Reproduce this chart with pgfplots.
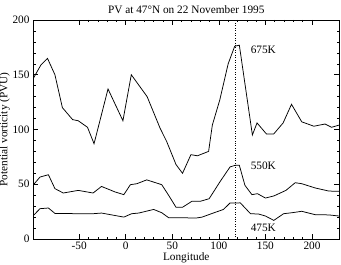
\documentclass[border=0pt]{standalone}
\usepackage{fontspec}
\setmainfont{Liberation Serif}
\usepackage{pgfplots}
\pgfplotsset{compat=1.18}

\begin{document}
\fontsize{11.3}{13.5}\selectfont
\begin{tikzpicture}
\begin{axis}[
  scale only axis,
  width=305.5pt, height=219pt,
  xmin=-99, xmax=229,
  ymin=0, ymax=200,
  xtick={-50,0,50,100,150,200},
  ytick={0,50,100,150,200},
  minor x tick num=4,
  minor y tick num=4,
  tick align=inside,
  major tick length=5pt,
  minor tick length=2.5pt,
  axis line style={line width=0.6pt},
  every tick/.style={line width=0.5pt, black},
  tick pos=both,
  /pgf/number format/assume math mode=true,
  tick label style={font=\fontsize{11.3}{13}\selectfont},
  xticklabel style={yshift=1pt},
  title={PV at 47°N on 22 November 1995},
  title style={font=\fontsize{11.3}{13}\selectfont, yshift=-3.5pt},
  xlabel={Longitude},
  ylabel={Potential vorticity (PVU)},
  xlabel style={yshift=4.5pt},
  ylabel style={yshift=-5pt},
  clip=false,
]
% 675 K isentropic surface
\addplot[black, line width=0.75pt] coordinates {
  (-99,147) (-91,159) (-84,165) (-76,150) (-68,120) (-57,109) (-51,108)
  (-41,102) (-34,87) (-19,137) (-3,108) (6,150) (23,130) (37,101)
  (44,89) (54,68) (61,60) (70,77) (77,76) (89,80) (93,104) (101,127)
  (110,160) (117,176) (122,177) (136,95) (141,106) (151,96) (159,96)
  (169,106) (178,123) (189,107) (202,103) (214,105) (221,102) (229,104)
};
% 550 K isentropic surface
\addplot[black, line width=0.75pt] coordinates {
  (-99,49.6) (-92,56.6) (-83,58.7) (-76,46) (-67,42) (-51,44.4) (-35,42)
  (-26,48) (-11.5,43) (-2,40.5) (5,49.6) (12,50.5) (22.6,54) (38.7,49.6)
  (46,40) (54,29) (61,29) (71,34.4) (80,34.4) (89.6,36.8) (101,52)
  (112,65.8) (117.5,67.3) (122,67.3) (128,49) (135.5,40.5) (141.5,41.4)
  (150,37.4) (159,39.3) (172,44.4) (182,51.4) (189,50.5) (203.5,46.6)
  (218,43.8) (229,43.5)
};
% 475 K isentropic surface
\addplot[black, line width=0.75pt] coordinates {
  (-99,21.6) (-92,27.7) (-83,28.3) (-76,23.4) (-51,23.1) (-35,23.1)
  (-26,23.7) (-2,20) (6.4,23.1) (14,23.7) (30,27) (38.7,24) (46,19.5)
  (76,19.2) (82,20) (94,23.7) (105,27) (112,32.9) (123,33) (134,23.1)
  (142.6,22.8) (150,21) (159,17) (169.5,23.1) (178.5,24) (189,25.3)
  (203.5,22.2) (218,22) (229,21)
};
% longitude of the PV maximum
\addplot[black, dotted, line width=0.45pt] coordinates {(118,0) (118,200)};
\node[anchor=west] at (axis cs:130,173) {675K};
\node[anchor=west] at (axis cs:130,67) {550K};
\node[anchor=west] at (axis cs:130,10) {475K};
\end{axis}
\pgfresetboundingbox
\path (current axis.south west) ++(-33.5pt,-25pt) coordinate (bl);
\path (current axis.north east) ++(2pt,20pt) coordinate (tr);
\useasboundingbox (bl) rectangle (tr);
\end{tikzpicture}
\end{document}
